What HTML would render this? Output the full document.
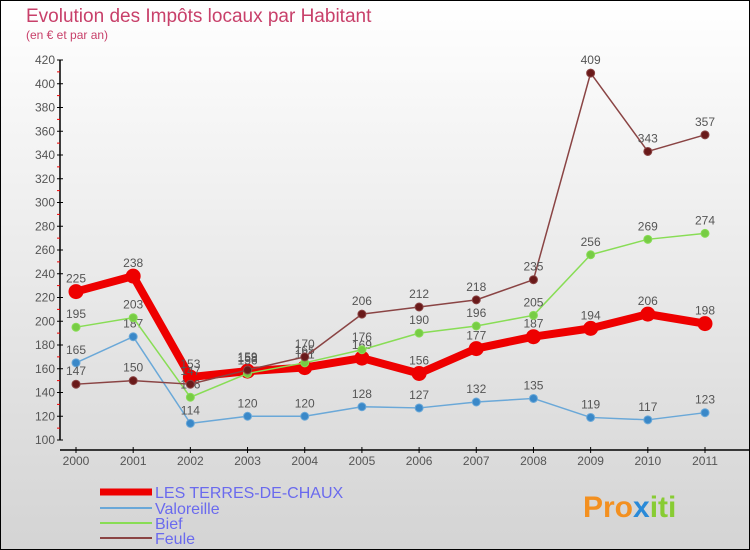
<!DOCTYPE html>
<html><head><meta charset="utf-8"><style>
body{margin:0}
#c{width:750px;height:550px;position:relative;overflow:hidden}
svg text{font-family:"Liberation Sans",sans-serif}
</style></head><body>
<div id="c">
<svg id="s" width="750" height="550" xmlns="http://www.w3.org/2000/svg">
<defs><linearGradient id="bg" x1="0" y1="0" x2="0" y2="1"><stop offset="0" stop-color="#ffffff"/><stop offset="1" stop-color="#d4d4d4"/></linearGradient></defs>
<rect x="0.5" y="0.5" width="749" height="549" fill="url(#bg)" stroke="#000"/>
<text x="26" y="22" font-size="19" font-weight="300" fill="#c8406a">Evolution des Impôts locaux par Habitant</text>
<text x="26" y="39" font-size="12" fill="#c8406a">(en € et par an)</text>
<g id="axes"></g><g id="series"></g>
<g>
<line x1="100" y1="492" x2="152" y2="492" stroke="#ee0000" stroke-width="7"/>
<text x="155" y="498" font-size="16" fill="#6a6aee">LES TERRES-DE-CHAUX</text>
<line x1="100" y1="508" x2="152" y2="508" stroke="#6aa8d8" stroke-width="2"/>
<text x="155" y="514" font-size="16" fill="#6a6aee">Valoreille</text>
<line x1="100" y1="523" x2="152" y2="523" stroke="#88dd55" stroke-width="2"/>
<text x="155" y="529" font-size="16" fill="#6a6aee">Bief</text>
<line x1="100" y1="538" x2="152" y2="538" stroke="#8a4444" stroke-width="2"/>
<text x="155" y="544" font-size="16" fill="#6a6aee">Feule</text>
</g>
<text x="583" y="517" font-size="30" font-weight="bold" fill="#f39020">Pro<tspan fill="#2a8ad8">x</tspan><tspan fill="#88cc33">iti</tspan></text>
</svg></div>
<script>
const years=[2000,2001,2002,2003,2004,2005,2006,2007,2008,2009,2010,2011];
const yTicks=[100,120,140,160,180,200,220,240,260,280,300,320,340,360,380,400,420];
const terres=[225,238,153,158,161,169,156,177,187,194,206,198];
const valoreille=[165,187,114,120,120,128,127,132,135,119,117,123];
const bief=[195,203,136,156,165,176,190,196,205,256,269,274];
const feule=[147,150,147,159,170,206,212,218,235,409,343,357];
const NS="http://www.w3.org/2000/svg";
function xs(i){return 76+i*(705-76)/(years.length-1);}
function ys(v){return 440-(v-100)*380/320;}
function mk(t,a,p){const e=document.createElementNS(NS,t);for(const k in a)e.setAttribute(k,a[k]);p.appendChild(e);return e;}
const ax=document.getElementById('axes');
let l=mk('line',{x1:60,y1:60,x2:60,y2:440,stroke:'#000','stroke-width':1.5},ax);


l=mk('line',{x1:60,y1:450,x2:750,y2:450,stroke:'#000','stroke-width':1.5},ax);


yTicks.forEach((v,i)=>{
 mk('line',{x1:57,y1:ys(v),x2:63,y2:ys(v),stroke:'#000'},ax);
 if(i<yTicks.length-1)mk('line',{x1:57,y1:ys(v+10),x2:60,y2:ys(v+10),stroke:'#e00'},ax);
 const t=mk('text',{x:55,y:ys(v)+4,'font-size':12,'text-anchor':'end',fill:'#555'},ax);t.textContent=v;
 
 
});
years.forEach((y,i)=>{
 mk('line',{x1:xs(i),y1:447,x2:xs(i),y2:453,stroke:'#000'},ax);
 const t=mk('text',{x:xs(i),y:465,'font-size':12,'text-anchor':'middle',fill:'#555'},ax);t.textContent=y;
 
 
});
const sg=document.getElementById('series');
function draw(name,data,color,w,r,dot){
 const g=mk('g',{},sg);
 
 
 mk('polyline',{points:data.map((v,i)=>xs(i)+','+ys(v)).join(' '),fill:'none',stroke:color,'stroke-width':w,'stroke-linejoin':'round'},g);
 data.forEach((v,i)=>{
  const c=mk('circle',{cx:xs(i),cy:ys(v),r:r,fill:dot,stroke:color,'stroke-width':1},g);
  
  
  const t=mk('text',{x:xs(i),y:ys(v)-9,'font-size':12,'text-anchor':'middle',fill:'#555'},g);t.textContent=v;
  
  
 });
}
draw('series-terres',terres,'#ee0000',8,7,'#ee0000');
draw('series-valoreille',valoreille,'#6aa8d8',1.5,4,'#3a88c8');
draw('series-bief',bief,'#88dd55',1.5,4,'#77cc44');
draw('series-feule',feule,'#8a4444',1.5,4,'#6a1a1a');
</script>
</body></html>
